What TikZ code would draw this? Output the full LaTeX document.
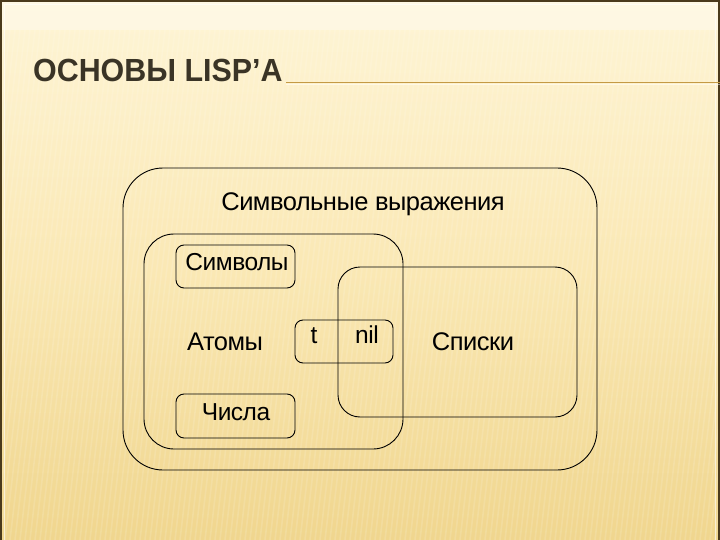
\documentclass[tikz,border=0pt]{standalone}
\usepackage{fontspec}
\setmainfont{Liberation Sans}
\newfontfamily\diagfont[LetterSpace=-2]{Liberation Sans}
\definecolor{bgtop}{HTML}{FEF5D6}
\definecolor{bgmid}{HTML}{FAE8B4}
\definecolor{bgbot}{HTML}{F0D68E}
\definecolor{frame}{HTML}{4A3A1C}
\definecolor{titletxt}{HTML}{3A3426}
\definecolor{rule}{HTML}{C49A45}
\begin{document}
\begin{tikzpicture}[x=1pt,y=-1pt,
  box/.style={draw=black, line width=0.9pt, rectangle, inner sep=0},
  lbl/.style={font=\diagfont\fontsize{25.5}{28}\selectfont, inner sep=0, anchor=base, text=black},
  slbl/.style={font=\diagfont\fontsize{24.5}{27}\selectfont, inner sep=0, anchor=base, text=black}]
\useasboundingbox (0,0) rectangle (720,540);
% background
\shade[top color=bgtop, bottom color=bgbot, middle color=bgmid] (0,0) rectangle (720,540);
\fill[white, opacity=0.35] (0,0) rectangle (720,30);
\foreach \i in {0,5,...,900} {
  \draw[white, opacity=0.13, line width=1.6pt] (\i,30) -- (\i-60,540);
}
% frame
\draw[frame, line width=2pt] (1,540) -- (1,1) -- (719,1) -- (719,540);
\draw[white, opacity=0.6, line width=0.8pt] (4.5,540) -- (4.5,4.5) -- (715.5,4.5) -- (715.5,540);
% title
\node[font=\bfseries\fontsize{32}{35}\selectfont, text=titletxt, inner sep=0, anchor=base west, xscale=0.95] (title) at (33,82) {ОСНОВЫ LISP’A};
\coordinate (ruleA) at (286,83);
\coordinate (ruleB) at (720,83);
\draw[rule, line width=1pt] (ruleA) -- (ruleB);
\draw[white, opacity=0.5, line width=0.8pt] ([yshift=-1.6pt]ruleA) -- ([yshift=-1.6pt]ruleB);
% boxes
\node[box, rounded corners=40pt, minimum width=474pt, minimum height=302pt] (outer) at (360,319) {};
\node[box, rounded corners=30pt, minimum width=259pt, minimum height=215pt] (atoms) at (273.5,341.5) {};
\node[box, rounded corners=22pt, minimum width=239pt, minimum height=150pt] (lists) at (457.5,342) {};
\node[box, rounded corners=8pt, minimum width=119pt, minimum height=43pt] (symbols) at (235.5,266.5) {};
\node[box, rounded corners=8pt, minimum width=119pt, minimum height=44pt] (numbers) at (235.5,416) {};
\node[box, rounded corners=8pt, minimum width=98pt, minimum height=43pt] (tnil) at (344,341.5) {};
% labels
\node[lbl] (lsexpr) at (363,211) {Символьные выражения};
\node[lbl] (latoms) at (225,350) {Атомы};
\node[lbl] (llists) at (473,350) {Списки};
\node[slbl] (lsym) at (237,270) {Символы};
\node[slbl] (lnum) at (236,420) {Числа};
\node[slbl] (lt) at (314,343) {t};
\node[slbl] (lnil) at (367,343) {nil};
\end{tikzpicture}
\end{document}
